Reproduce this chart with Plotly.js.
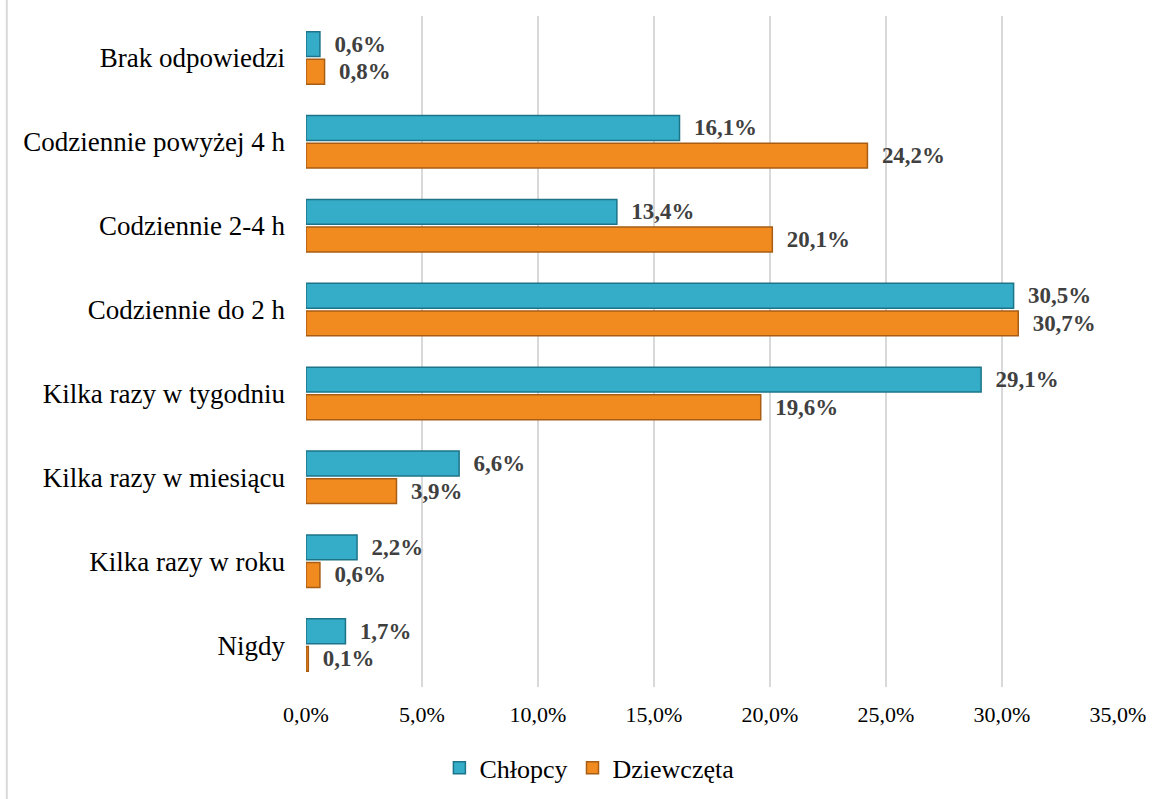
<!DOCTYPE html>
<html>
<head>
<meta charset="utf-8">
<script src="https://cdn.plot.ly/plotly-3.0.1.min.js"></script>
<style>html,body{margin:0;padding:0;background:#fff;}#chart{width:1159px;height:799px;}</style>
</head>
<body>
<div id="chart"></div>
<script>
const categories = ["Brak odpowiedzi", "Codziennie powyżej 4 h", "Codziennie 2-4 h", "Codziennie do 2 h", "Kilka razy w tygodniu", "Kilka razy w miesiącu", "Kilka razy w roku", "Nigdy"];
const chlopcy = [0.6, 16.1, 13.4, 30.5, 29.1, 6.6, 2.2, 1.7];
const dziewczeta = [0.8, 24.2, 20.1, 30.7, 19.6, 3.9, 0.6, 0.1];
const xTicks = [0, 5, 10, 15, 20, 25, 30, 35];

const FAM = "Liberation Serif";
const fmt = v => v.toFixed(1).replace('.', ',') + '%';
const labelFont = {family: FAM, size: 23, color: "#404040", weight: "bold"};

const traces = [
  {type: "bar", orientation: "h", name: "Chłopcy", y: categories, x: chlopcy,
   marker: {color: "#35adc8", line: {color: "#1d7488", width: 1.5}},
   text: chlopcy.map(v => "\u00a0\u00a0" + fmt(v)), textposition: "outside", cliponaxis: false,
   textfont: labelFont, hoverinfo: "x+y"},
  {type: "bar", orientation: "h", name: "Dziewczęta", y: categories, x: dziewczeta,
   marker: {color: "#f28b1f", line: {color: "#a85d14", width: 1.5}},
   text: dziewczeta.map(v => "\u00a0\u00a0" + fmt(v)), textposition: "outside", cliponaxis: false,
   textfont: labelFont, hoverinfo: "x+y"}
];

const layout = {
  width: 1159, height: 799,
  margin: {l: 306, r: 41, t: 16, b: 112, autoexpand: false},
  paper_bgcolor: "#ffffff", plot_bgcolor: "#ffffff",
  separators: ", ",
  barmode: "group", bargap: 0.34, bargroupgap: 0.1,
  font: {family: FAM, size: 22, color: "#000"},
  xaxis: {range: [0, 35], tickvals: xTicks, ticktext: xTicks.map(fmt),
          showgrid: true, gridcolor: "#d9d9d9", gridwidth: 2, zeroline: false,
          showline: false, ticks: "", tickfont: {family: FAM, size: 22, color: "#000"},
          ticklabelstandoff: 12, fixedrange: true, automargin: false},
  yaxis: {categoryorder: "array", categoryarray: categories, autorange: "reversed",
          showgrid: false, zeroline: false, showline: false, ticks: "",
          tickfont: {family: FAM, size: 27, color: "#000"}, ticklabelstandoff: 20,
          fixedrange: true, automargin: false},
  legend: {orientation: "h", x: 0.349, xanchor: "center", xref: "paper",
           y: 0.039, yref: "container", yanchor: "middle",
           font: {family: FAM, size: 26, color: "#000"}, itemwidth: 30, traceorder: "normal"},
  shapes: [
    {type: "line", xref: "paper", yref: "paper", x0: -0.3685, x1: -0.3685, y0: -0.167, y1: 1.024,
     line: {color: "#d9d9d9", width: 2}}
  ]
};

Plotly.newPlot("chart", traces, layout, {displayModeBar: false, staticPlot: true});
</script>
</body>
</html>
